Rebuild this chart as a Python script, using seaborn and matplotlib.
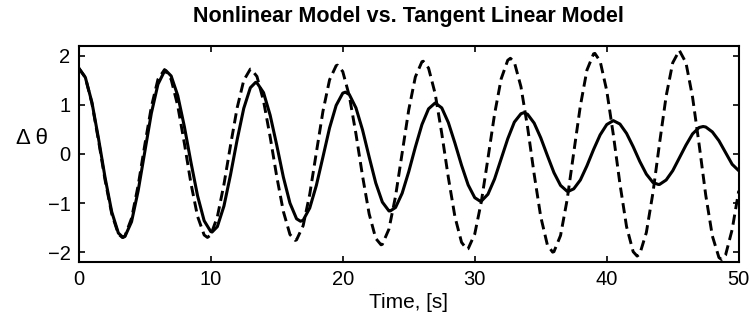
import numpy as np
import pandas as pd
import matplotlib
matplotlib.use("Agg")
import matplotlib.pyplot as plt
import seaborn as sns

# time grid (s), every 0.5 s
time = np.arange(0, 50.5, 0.5)

# nonlinear model (solid)
nonlinear = [
    1.75, 1.56, 1.05, 0.31, -0.49, -1.18, -1.61, -1.68, -1.38, -0.75,
    0.04, 0.83, 1.42, 1.69, 1.59, 1.19, 0.56, -0.17, -0.85, -1.36,
    -1.58, -1.48, -1.06, -0.42, 0.29, 0.93, 1.35, 1.45, 1.25, 0.79,
    0.18, -0.47, -1.00, -1.32, -1.35, -1.10, -0.64, -0.06, 0.53, 0.99,
    1.24, 1.21, 0.94, 0.49, -0.06, -0.59, -0.98, -1.16, -1.09, -0.80,
    -0.36, 0.14, 0.60, 0.92, 1.04, 0.94, 0.64, 0.22, -0.23, -0.63,
    -0.89, -0.96, -0.82, -0.51, -0.10, 0.31, 0.65, 0.82, 0.81, 0.63,
    0.33, -0.03, -0.38, -0.64, -0.76, -0.71, -0.53, -0.24, 0.09, 0.39,
    0.60, 0.68, 0.61, 0.42, 0.15, -0.15, -0.41, -0.58, -0.62, -0.53,
    -0.34, -0.08, 0.18, 0.41, 0.54, 0.55, 0.45, 0.27, 0.03, -0.21,
    -0.34,
]
# peaks / troughs of the solid curve that fall between grid points
nonlinear_peak_t = [3.35, 6.6, 10.1, 13.4, 16.8, 20.2, 23.6, 30.4, 33.7, 37.1, 43.9, 47.3]
nonlinear_peak_y = [-1.70, 1.70, -1.59, 1.46, -1.37, 1.26, -1.16, -0.96, 0.84, -0.76, -0.62, 0.56]

# tangent linear model (dashed)
tangent = [
    1.75, 1.56, 1.03, 0.27, -0.54, -1.22, -1.63, -1.67, -1.31, -0.64,
    0.18, 0.96, 1.52, 1.72, 1.52, 0.98, 0.22, -0.60, -1.27, -1.65,
    -1.65, -1.28, -0.62, 0.18, 0.94, 1.50, 1.73, 1.58, 1.08, 0.35,
    -0.46, -1.17, -1.64, -1.75, -1.46, -0.82, 0.03, 0.87, 1.51, 1.80,
    1.68, 1.18, 0.41, -0.45, -1.22, -1.72, -1.84, -1.53, -0.86, 0.02,
    0.90, 1.57, 1.88, 1.75, 1.23, 0.42, -0.48, -1.28, -1.80, -1.93,
    -1.63, -0.97, -0.09, 0.81, 1.53, 1.91, 1.87, 1.37, 0.55, -0.41,
    -1.28, -1.85, -1.99, -1.66, -0.93, 0.03, 0.98, 1.71, 2.04, 1.89,
    1.29, 0.39, -0.61, -1.48, -1.99, -2.04, -1.60, -0.79, 0.22, 1.18,
    1.86, 2.11, 1.86, 1.16, 0.19, -0.84, -1.67, -2.11, -2.06, -1.54,
    -0.75,
]
tangent_peak_t = [3.3, 9.75, 13.05, 16.4, 19.6, 22.9, 26.1, 29.4, 32.7, 35.9, 39.1, 42.3, 48.7]
tangent_peak_y = [-1.70, -1.70, 1.73, -1.76, 1.81, -1.85, 1.89, -1.94, 1.95, -2.00, 2.05, -2.08, -2.15]

x_ticks = [0, 10, 20, 30, 40, 50]
y_ticks = [-2, -1, 0, 1, 2]

df_nl = pd.DataFrame({"time": np.concatenate([time, nonlinear_peak_t]),
                      "value": np.concatenate([nonlinear, nonlinear_peak_y])})
df_tl = pd.DataFrame({"time": np.concatenate([time, tangent_peak_t]),
                      "value": np.concatenate([tangent, tangent_peak_y])})

sns.set_style("ticks")
plt.rcParams["font.family"] = ["Liberation Sans", "DejaVu Sans"]
plt.rcParams["text.color"] = "black"
plt.rcParams["axes.labelcolor"] = "black"

fig = plt.figure(figsize=(7.5, 3.13), dpi=100)
ax = fig.add_axes([0.105, 0.163, 0.88, 0.69])

sns.lineplot(data=df_tl, x="time", y="value", ax=ax, color="black",
             linewidth=2.1)
ax.lines[-1].set_dashes((3.5, 1.9))
sns.lineplot(data=df_nl, x="time", y="value", ax=ax, color="black",
             linewidth=2.2)
for ln in ax.lines:
    ln.set_solid_joinstyle("round")
    ln.set_dash_joinstyle("round")

ax.set_xlim(0, 50)
ax.set_ylim(-2.2, 2.2)
ax.set_xticks(x_ticks)
ax.set_yticks(y_ticks)
ax.tick_params(direction="in", top=True, right=True, labelsize=14.5,
               length=4.5, width=1.2, colors="black", pad=6)
for s in ax.spines.values():
    s.set_linewidth(1.5)
    s.set_color("black")

ax.set_title("Nonlinear Model vs. Tangent Linear Model", fontsize=15.5,
             fontweight="bold", pad=17)
ax.set_xlabel("Time, [s]", fontsize=15, labelpad=3)
ax.set_ylabel("Δ θ", fontsize=16, rotation=0, va="center", ha="center")
ax.yaxis.set_label_coords(-0.071, 0.57)

fig.savefig("out.png", dpi=100)
